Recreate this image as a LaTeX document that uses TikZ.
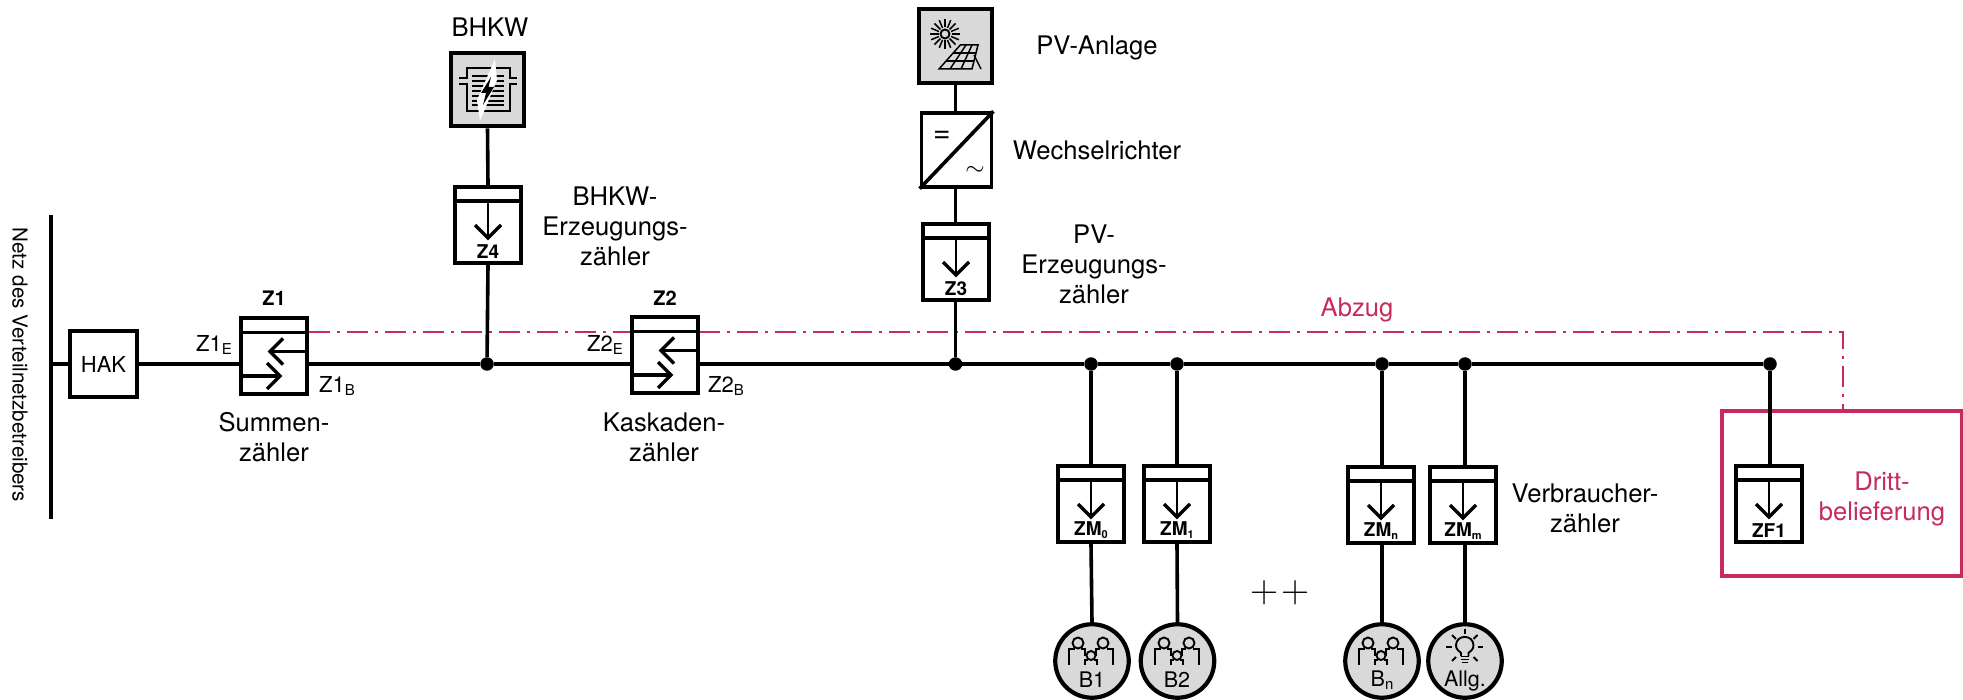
\documentclass[tikz,border=0pt]{standalone}
\usepackage{fontspec}
\setsansfont{TeX Gyre Heros}
\definecolor{pinkc}{HTML}{C62B5B}
\definecolor{greyc}{HTML}{D9D9D9}
\newcommand\lowsub[2]{\raisebox{-0.16em}{\fontsize{#1}{#1}\selectfont #2}}
\tikzset{
  lab/.style={font=\sffamily\fontsize{25.6}{30}\selectfont,align=center,inner sep=0pt,outer sep=0pt},
  labsmall/.style={font=\sffamily\fontsize{22}{26}\selectfont,inner sep=0pt},
  meterlab/.style={font=\sffamily\bfseries\fontsize{19}{20}\selectfont,inner sep=0pt},
  titlelab/.style={font=\sffamily\bfseries\fontsize{20}{22}\selectfont,inner sep=0pt},
  cons/.style={font=\sffamily\fontsize{21.5}{24}\selectfont,inner sep=0pt},
  wire/.style={line width=3.6pt,black},
  meterbox/.style={draw,line width=3.8pt,minimum width=66.5pt,minimum height=76.5pt,inner sep=0pt,fill=white},
  genbox/.style={draw,line width=4.2pt,fill=greyc,minimum width=73.5pt,minimum height=73.5pt,inner sep=0pt},
  consumer/.style={circle,draw,line width=4.2pt,fill=greyc,minimum size=73.5pt,inner sep=0pt},
  jdot/.style={circle,fill=black,minimum size=13.5pt,inner sep=0pt},
  abzug/.style={line width=2.8pt,pinkc,dash pattern=on 21pt off 7pt on 3pt off 7pt},
  meterline/.style={line width=3.6pt},
  meterarrow/.style={line width=3.3pt},
  icon/.style={line width=1.9pt,line cap=butt},
}
% name, centre x, top y, shown label
\newcommand\downmeter[4]{%
  \node[meterbox] (#1) at (#2,#3+39) {};
  \draw[meterline] (#2-33,#3+15) -- (#2+33,#3+15);
  \draw[line width=2.8pt] (#2,#3+15) -- (#2,#3+52);
  \draw[meterarrow] (#2-13,#3+39) -- (#2,#3+52) -- (#2+13,#3+39);
  \node[meterlab] (#1lab) at (#2,#3+65.5) {#4};
}
% name, left x, top y
\newcommand\twometer[3]{%
  \node[meterbox] (#1) at (#2+34,#3+39) {};
  \draw[meterline] (#2,#3+15.5) -- (#2+68,#3+15.5);
  \draw[meterarrow] (#2+68,#3+34.5) -- (#2+30,#3+34.5);
  \draw[meterarrow] (#2+43,#3+21.5) -- (#2+30,#3+34.5) -- (#2+43,#3+47.5);
  \draw[meterarrow] (#2,#3+59) -- (#2+40,#3+59);
  \draw[meterarrow] (#2+27,#3+46) -- (#2+40,#3+59) -- (#2+27,#3+72);
}
\newcommand\people[2]{%
  \begin{scope}[shift={(#1,#2)},icon]
    \draw (-13,-18) circle (5.5pt);
    \draw (12,-18) circle (5.5pt);
    \draw (0,-5.5) circle (4.5pt);
    \draw (-22,4) -- (-22,-12) -- (-16,-12);
    \draw (-10,-12) -- (-6,-12) -- (-6,-5);
    \draw (22,4) -- (22,-12) -- (16,-12);
    \draw (9,-12) -- (5,-12) -- (5,-5);
    \draw (-6,4) -- (-6,-1) -- (-3,-1);
    \draw (6,4) -- (6,-1) -- (3,-1);
  \end{scope}%
}
\begin{document}
\begin{tikzpicture}[x=1pt,y=-1pt]
\useasboundingbox (0,0) rectangle (1963,700);

% grid line
\coordinate (nT) at (51,215);
\coordinate (nB) at (51,519);
\coordinate (nM) at (51,364);
\draw[line width=3.6pt] (nT) -- (nB);
\node[font=\sffamily\fontsize{20.6}{22}\selectfont,rotate=-90,inner sep=0pt] (netz) at (20,365) {Netz des Verteilnetzbetreibers};

% Abzug and third-party box (behind everything)
\node[draw=pinkc,line width=4pt,minimum width=240.5pt,minimum height=164pt,inner sep=0pt] (drittbox) at (1842,493.5) {};
\coordinate (aA) at (309,332);
\coordinate (aB) at (631,332);
\coordinate (aC) at (699,332);
\coordinate (aD) at (1843,332);
\draw[abzug] (aA) -- (aB);
\draw[abzug] (aC) -- (aD) -- (aD |- drittbox.north);
\node[lab,pinkc] (abzuglab) at (1357,310) {Abzug};
\node[lab,pinkc] (dritt) at (1882,499) {Dritt-\\belieferung};

% HAK
\node[draw,line width=3.8pt,minimum width=66.5pt,minimum height=66.5pt,inner sep=0pt,font=\sffamily\fontsize{22}{26}\selectfont] (hak) at (103.5,364) {HAK};

% two-way meters
\twometer{z1}{240}{317}
\twometer{z2}{631}{316}
\node[titlelab] (z1t) at (274,298) {Z1};
\node[titlelab] (z2t) at (665,298) {Z2};
\node[labsmall] (z1e) at (214,345) {Z1\lowsub{15}{E}};
\node[labsmall] (z1b) at (337,386) {Z1\lowsub{15}{B}};
\node[labsmall] (z2e) at (605,345) {Z2\lowsub{15}{E}};
\node[labsmall] (z2b) at (726,386) {Z2\lowsub{15}{B}};
\node[lab] (sum) at (274,437) {Summen-\\zähler};
\node[lab] (kas) at (664,437) {Kaskaden-\\zähler};

% junctions
\node[jdot] (j1) at (487,364) {};
\node[jdot] (j2) at (955.5,364) {};
\node[jdot] (j3) at (1091,364) {};
\node[jdot] (j4) at (1177,364) {};
\node[jdot] (j5) at (1382,364) {};
\node[jdot] (j6) at (1465,364) {};
\node[jdot] (j7) at (1770,364) {};

% BHKW branch
\node[genbox] (bhkw) at (487.5,89.5) {};
\downmeter{z4}{488}{186}{Z4}
\node[lab] (bhkwlab) at (490,27) {BHKW};
\node[lab] (z4txt) at (615,226) {BHKW-\\Erzeugungs-\\zähler};
\begin{scope}[icon]
  \foreach \y in {76,81,86,91,96,101,105} \draw[line width=2pt] (472,\y) -- (504,\y);
  \draw (459,78) -- (467,78) -- (467,68) -- (510,68) -- (510,78) -- (517,78);
  \draw (459,84) -- (467,84) -- (467,111) -- (510,111) -- (510,84) -- (517,84);
  \fill[white] (495,59) -- (497,80) -- (480,121) -- (477,100) -- cycle;
  \fill[black] (491,77) -- (481,93) -- (486,93) -- (483,105) -- (494,87) -- (488.5,87) -- cycle;
\end{scope}

% PV branch
\node[genbox] (pv) at (955.5,46) {};
\node[draw,line width=3.8pt,fill=white,minimum width=70pt,minimum height=73.5pt,inner sep=0pt] (wr) at (956.5,150) {};
\draw[line width=3.6pt] (wr.south west) -- (wr.north east);
\node[font=\sffamily\fontsize{30}{32}\selectfont,inner sep=0pt] (wreq) at (942,137) {=};
\node[font=\fontsize{30}{32}\selectfont,inner sep=0pt] (wrac) at (975,171) {$\sim$};
\downmeter{z3}{956}{223}{Z3}
\node[lab] (pvlab) at (1097,48) {PV-Anlage};
\node[lab] (wrlab) at (1097,150) {Wechselrichter};
\node[lab] (z3txt) at (1094,264) {PV-\\Erzeugungs-\\zähler};
\begin{scope}[icon]
  \draw (945,34) circle (4.5pt);
  \foreach \a in {0,22.5,...,337.5} \draw[line width=1.5pt] (945,34) ++(\a:6.5) -- ++(\a:8.5);
  % panel
  \draw[line width=1.5pt] (960.3,45) -- (978,45) -- (972,69) -- (939,69) -- cycle;
  \draw[line width=1.5pt] (953,53) -- (976,53);
  \draw[line width=1.5pt] (946,61) -- (974,61);
  \draw[line width=1.5pt] (966,45) -- (950,69);
  \draw[line width=1.5pt] (972,45) -- (961,69);
  \draw[line width=1.5pt] (974,55) -- (981,69);
\end{scope}

% consumer meters
\downmeter{zm0}{1091}{465}{ZM\lowsub{11}{0}}
\downmeter{zm1}{1177}{465}{ZM\lowsub{11}{1}}
\downmeter{zmn}{1381}{466}{ZM\lowsub{11}{n}}
\downmeter{zmm}{1463}{466}{ZM\lowsub{11}{m}}
\downmeter{zf1}{1769}{465}{ZF1}
\node[lab] (verb) at (1585,508) {Verbraucher-\\zähler};
\node[font=\rmfamily\fontsize{39}{40}\selectfont,inner sep=0pt] (plus) at (1280,593) {+\kern2.7pt+};

% consumers
\node[consumer] (b1) at (1092,661) {};
\node[consumer] (b2) at (1177.5,661) {};
\node[consumer] (bn) at (1382,661) {};
\node[consumer] (ba) at (1465,661) {};
\people{1091}{661}
\people{1177}{661}
\people{1381}{661}
\node[cons] (b1t) at (1092,680) {B1};
\node[cons] (b2t) at (1177,680) {B2};
\node[cons] (bnt) at (1382,680) {B\lowsub{15}{n}};
\node[cons] (bat) at (1465,681) {Allg.};
\begin{scope}[icon]
  \draw (1461,656) -- (1461,653) .. controls (1459,651) and (1456,649.5) .. (1456,645.5) .. controls (1456,634) and (1473.5,634) .. (1473.5,645.5) .. controls (1473.5,649.5) and (1470.5,651) .. (1468.5,653) -- (1468.5,656);
  \draw (1460.5,656.5) -- (1469,656.5);
  \draw (1460.5,659.5) -- (1469,659.5);
  \draw (1461.5,662.5) -- (1468,662.5);
  \draw (1464.7,629) -- (1464.7,634);
  \draw (1446,647) -- (1452,647);
  \draw (1477.5,647) -- (1483,647);
  \draw (1452,635) -- (1456,639);
  \draw (1473.5,639) -- (1477.5,635);
  \draw (1452,661) -- (1456,657);
  \draw (1473.5,657) -- (1477.5,661);
\end{scope}

% connectors
\draw[wire] (nM) -- (hak.west);
\draw[wire] (hak.east) -- (z1.west |- hak.east);
\draw[wire] (z1.east |- hak.east) -- (j1);
\draw[wire] (j1) -- (z2.west |- j1);
\draw[wire] (z2.east |- j1) -- (j2);
\draw[wire] (j2) -- (j3);
\draw[wire] (j3) -- (j4);
\draw[wire] (j4) -- (j5);
\draw[wire] (j5) -- (j6);
\draw[wire] (j6) -- (j7);
\draw[wire] (bhkw.south) -- (z4.north);
\draw[wire] (z4.south) -- (j1);
\draw[wire] (pv.south) -- (pv.south |- wr.north);
\draw[wire] (pv.south |- wr.south) -- (pv.south |- z3.north);
\draw[wire] (pv.south |- z3.south) -- (j2);
\draw[wire] (j3) -- (j3 |- zm0.north);
\draw[wire] (j3 |- zm0.south) -- (b1.north);
\draw[wire] (j4) -- (j4 |- zm1.north);
\draw[wire] (j4 |- zm1.south) -- (b2.north);
\draw[wire] (j5) -- (j5 |- zmn.north);
\draw[wire] (j5 |- zmn.south) -- (bn.north);
\draw[wire] (j6) -- (j6 |- zmm.north);
\draw[wire] (j6 |- zmm.south) -- (ba.north);
\draw[wire] (j7) -- (j7 |- zf1.north);
\end{tikzpicture}
\end{document}
